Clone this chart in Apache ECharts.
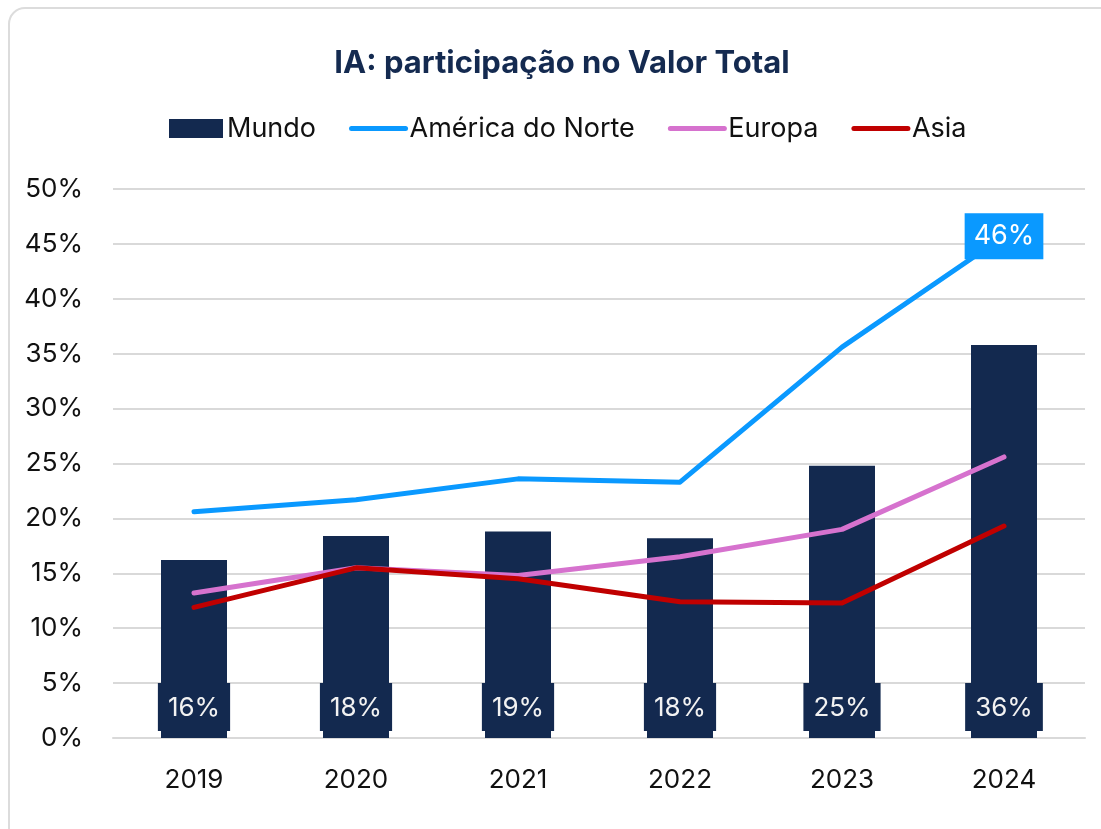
<!DOCTYPE html>
<html>
<head>
<meta charset="UTF-8" />
<script type="text/javascript" src="https://cdn.jsdelivr.net/npm/echarts@6/dist/echarts.min.js"></script>
<title>IA: participação no Valor Total</title>
<style>
	html, body { margin: 0; padding: 0; background: #fff; }
	#main { width: 1101px; height: 829px; }
</style>
</head>
<body>
	<div id="main"></div>
<script type="text/javascript">
	var anos = ['2019', '2020', '2021', '2022', '2023', '2024']
	var mundo = [16.2, 18.4, 18.8, 18.2, 24.8, 35.8]
	var americaNorte = [20.6, 21.7, 23.6, 23.3, 35.6, 45.7]
	var europa = [13.2, 15.5, 14.8, 16.5, 19.0, 25.6]
	var asia = [11.9, 15.5, 14.5, 12.4, 12.3, 19.3]

	var fonte = 'Inter, Roboto, sans-serif'

	function pct(p) {
		return Math.round(p.value) + '%'
	}

	// so o ultimo ponto da America do Norte leva rotulo
	var americaData = americaNorte.map(function(v, i) {
		if (i == americaNorte.length - 1) {
			return {
				value : v,
				symbol : 'circle',
				symbolSize : 1,
				itemStyle : { color : 'transparent' },
				label : {
					show : true,
					position : 'inside',
					formatter : pct,
					color : '#fff',
					fontSize : 27,
					fontFamily : fonte,
					backgroundColor : '#0A99FF',
					padding : [ 10, 9, 9, 9 ]
				}
			}
		}
		return v
	})

	// legenda das linhas sem o circulo
	function itemLinha(nome) {
		return {
			name : nome,
			itemStyle : { opacity : 0 },
			lineStyle : { width : 5, cap : 'round' }
		}
	}

	var option = {
		backgroundColor : '#fff',
		animation : false,
		graphic : [ {
			type : 'rect',
			shape : { x : 9, y : 8, width : 1130, height : 860, r : 16 },
			style : { fill : 'none', stroke : '#dcdcdc', lineWidth : 2 },
			silent : true
		} ],
		title : {
			text : 'IA: participação no Valor Total',
			left : 557,
			textAlign : 'center',
			top : 43,
			textStyle : {
				fontFamily : fonte,
				fontSize : 31,
				fontWeight : 'bold',
				color : '#142A50'
			}
		},
		legend : {
			left : 164,
			top : 110,
			itemGap : 33,
			itemWidth : 54,
			itemHeight : 19,
			textStyle : {
				fontFamily : fonte,
				fontSize : 27,
				color : '#111',
				padding : [ 0, 0, 0, -1 ]
			},
			data : [
				{ name : 'Mundo', icon : 'rect' },
				itemLinha('América do Norte'),
				itemLinha('Europa'),
				itemLinha('Asia')
			]
		},
		grid : {
			left : 113,
			right : 16,
			top : 189,
			bottom : 91
		},
		xAxis : {
			type : 'category',
			data : anos,
			axisTick : { show : false },
			axisLine : { lineStyle : { color : '#d9d9d9', width : 2 } },
			axisLabel : {
				margin : 29,
				fontFamily : fonte,
				fontSize : 26,
				color : '#111'
			}
		},
		yAxis : {
			type : 'value',
			min : 0,
			max : 50,
			interval : 5,
			axisLine : { show : false },
			axisTick : { show : false },
			axisLabel : {
				margin : 30,
				formatter : '{value}%',
				fontFamily : fonte,
				fontSize : 26,
				color : '#111'
			},
			splitLine : { lineStyle : { color : '#d9d9d9', width : 2 } }
		},
		series : [ {
			name : 'Mundo',
			type : 'bar',
			data : mundo,
			barWidth : 66,
			itemStyle : { color : '#13294F' },
			label : {
				show : true,
				position : 'insideBottom',
				distance : 7,
				formatter : pct,
				color : '#f2f2f2',
				fontSize : 26,
				fontFamily : fonte,
				backgroundColor : '#13294F',
				padding : [ 12, 10, 10, 10 ]
			}
		}, {
			name : 'América do Norte',
			type : 'line',
			data : americaData,
			symbol : 'none',
			lineStyle : { color : '#0A99FF', width : 5, cap : 'round', join : 'round' },
			itemStyle : { color : '#0A99FF' }
		}, {
			name : 'Europa',
			type : 'line',
			data : europa,
			symbol : 'none',
			lineStyle : { color : '#D672CE', width : 5, cap : 'round', join : 'round' },
			itemStyle : { color : '#D672CE' }
		}, {
			name : 'Asia',
			type : 'line',
			data : asia,
			symbol : 'none',
			lineStyle : { color : '#C00000', width : 5, cap : 'round', join : 'round' },
			itemStyle : { color : '#C00000' }
		} ]
	}

	var myChart = echarts.init(document.getElementById('main'))
	myChart.setOption(option)
</script>
</body>
</html>
